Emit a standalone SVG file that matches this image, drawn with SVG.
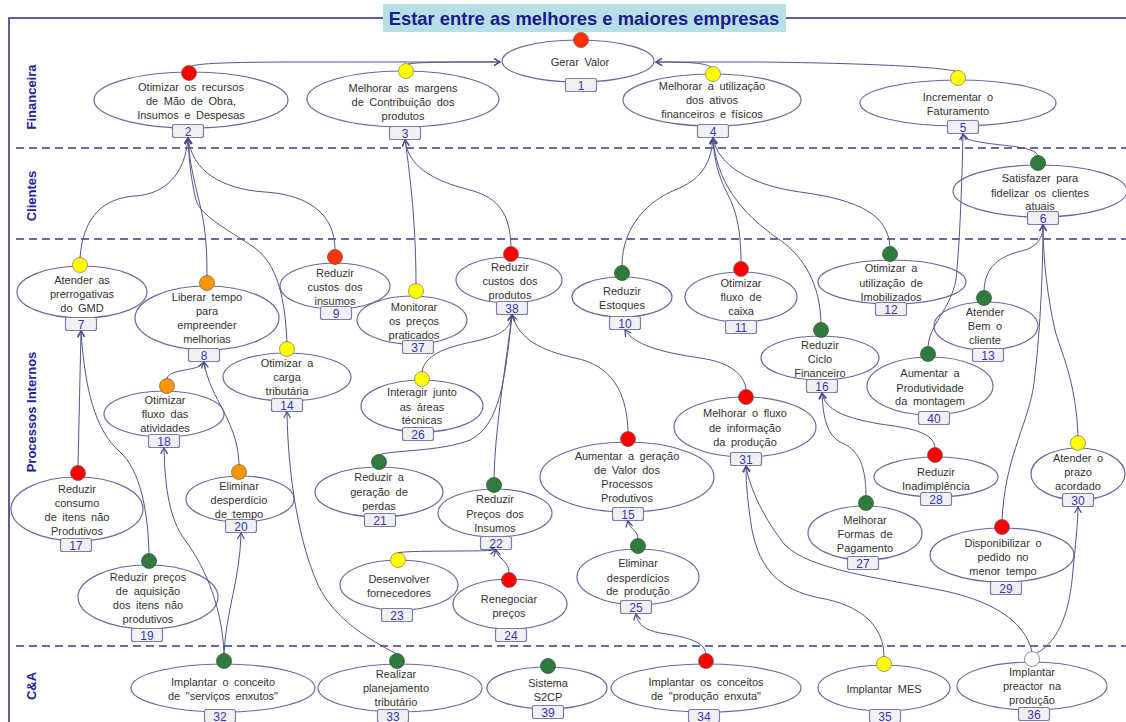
<svg xmlns="http://www.w3.org/2000/svg" width="1126" height="722" viewBox="0 0 1126 722">
<defs>
<marker id="arr" markerWidth="10" markerHeight="10" refX="7" refY="4" orient="auto" markerUnits="userSpaceOnUse">
<path d="M1,0.5 L7,4 L1,7.5" fill="none" stroke="#4a4a88" stroke-width="1.2"/>
</marker>
</defs>
<style>
.el{fill:#fff;stroke:#6a6aa2;stroke-width:1.2}
.bx{fill:#f1f1f4;stroke:#7c7cac;stroke-width:1.2}
.t{font-family:"Liberation Sans",Arial,sans-serif;font-size:11px;fill:#333;text-anchor:middle;word-spacing:2.5px}
.n{font-family:"Liberation Sans",Arial,sans-serif;font-size:12px;fill:#3535b8;text-anchor:middle}
.lane{font-family:"Liberation Sans",Arial,sans-serif;font-size:13px;font-weight:bold;fill:#2222a0;text-anchor:middle}
.sep{stroke:#3a3a88;stroke-width:1.5;stroke-dasharray:8 5;fill:none}
.c{fill:none;stroke:#55558e;stroke-width:1;marker-end:url(#arr)}
.red{fill:#ff0000;stroke:#7a5a5a;stroke-width:0.8}
.rdo{fill:#ff3300;stroke:#7a5a5a;stroke-width:0.8}
.yel{fill:#ffff00;stroke:#8a8a5a;stroke-width:0.8}
.org{fill:#ff9500;stroke:#8a6a4a;stroke-width:0.8}
.grn{fill:#2f7a3c;stroke:#3a5a3a;stroke-width:0.8}
.wht{fill:#fff;stroke:#777;stroke-width:0.8}
</style>
<rect width="1126" height="722" fill="#fff"/>
<g id="frame">
<path d="M9,722 L9,18 L383,18 M786,18 L1126,18" fill="none" stroke="#2a2a7a" stroke-width="1.5"/>
<rect x="383" y="4" width="403" height="28" fill="#b7dfe6"/>
<text x="584" y="25" font-family="Liberation Sans,Arial,sans-serif" font-size="18.4" font-weight="bold" fill="#1a1a8c" text-anchor="middle">Estar entre as melhores e maiores empresas</text>
<path class="sep" d="M16,148 L1126,148"/>
<path class="sep" d="M16,239 L1126,239"/>
<path class="sep" d="M16,646 L1126,646"/>
<text class="lane" transform="translate(36,97) rotate(-90)">Financeira</text>
<text class="lane" transform="translate(36,196) rotate(-90)">Clientes</text>
<text class="lane" transform="translate(36,412) rotate(-90)">Processos Internos</text>
<text class="lane" transform="translate(36,686) rotate(-90)">C&amp;A</text>
</g>
<g id="nodes">
<g id="n1"><ellipse class="el" cx="578" cy="61" rx="76" ry="21"/><circle class="rdo" cx="581" cy="40" r="7.5"/><rect class="bx" x="565.5" y="78.5" width="31" height="13" rx="2"/><text class="n" x="581" y="89.5">1</text><text class="t" x="580" y="66">Gerar Valor</text></g>
<g id="n2"><ellipse class="el" cx="191" cy="100" rx="97" ry="28"/><circle class="red" cx="189" cy="73" r="7.5"/><rect class="bx" x="172.5" y="124.5" width="31" height="13" rx="2"/><text class="n" x="188" y="135.5">2</text><text class="t" x="191" y="91">Otimizar os recursos</text><text class="t" x="191" y="105">de Mão de Obra,</text><text class="t" x="191" y="119">Insumos e Despesas</text></g>
<g id="n3"><ellipse class="el" cx="403" cy="99" rx="96" ry="28"/><circle class="yel" cx="406" cy="71" r="7.5"/><rect class="bx" x="389.5" y="126.5" width="31" height="13" rx="2"/><text class="n" x="405" y="137.5">3</text><text class="t" x="403" y="92">Melhorar as margens</text><text class="t" x="403" y="106">de Contribuição dos</text><text class="t" x="403" y="120">produtos</text></g>
<g id="n4"><ellipse class="el" cx="712" cy="100" rx="89" ry="26"/><circle class="yel" cx="713" cy="74" r="7.5"/><rect class="bx" x="697.5" y="124.5" width="31" height="13" rx="2"/><text class="n" x="713" y="135.5">4</text><text class="t" x="712" y="90">Melhorar a utilização</text><text class="t" x="712" y="104">dos ativos</text><text class="t" x="712" y="118">financeiros e físicos</text></g>
<g id="n5"><ellipse class="el" cx="958" cy="103" rx="98" ry="23"/><circle class="yel" cx="958" cy="78" r="7.5"/><rect class="bx" x="947.5" y="120.5" width="31" height="13" rx="2"/><text class="n" x="963" y="131.5">5</text><text class="t" x="958" y="101">Incrementar o</text><text class="t" x="958" y="115">Faturamento</text></g>
<g id="n6"><ellipse class="el" cx="1040" cy="191" rx="87" ry="26"/><circle class="grn" cx="1038" cy="163" r="7.5"/><rect class="bx" x="1027.5" y="211.5" width="31" height="13" rx="2"/><text class="n" x="1043" y="222.5">6</text><text class="t" x="1040" y="182">Satisfazer para</text><text class="t" x="1040" y="197">fidelizar os clientes</text><text class="t" x="1040" y="210">atuais</text></g>
<g id="n7"><ellipse class="el" cx="82" cy="292" rx="65" ry="26"/><circle class="yel" cx="80" cy="265" r="7.5"/><rect class="bx" x="65.5" y="317.5" width="31" height="13" rx="2"/><text class="n" x="81" y="328.5">7</text><text class="t" x="82" y="284">Atender as</text><text class="t" x="82" y="298">prerrogativas</text><text class="t" x="82" y="312">do GMD</text></g>
<g id="n8"><ellipse class="el" cx="207" cy="318" rx="72" ry="32"/><circle class="org" cx="207" cy="283" r="7.5"/><rect class="bx" x="188.5" y="348.5" width="31" height="13" rx="2"/><text class="n" x="204" y="359.5">8</text><text class="t" x="207" y="301">Liberar tempo</text><text class="t" x="207" y="315">para</text><text class="t" x="207" y="329">empreender</text><text class="t" x="207" y="343">melhorias</text></g>
<g id="n9"><ellipse class="el" cx="335" cy="286" rx="55" ry="23"/><circle class="rdo" cx="335" cy="257" r="7.5"/><rect class="bx" x="320.5" y="306.5" width="31" height="13" rx="2"/><text class="n" x="336" y="317.5">9</text><text class="t" x="335" y="277">Reduzir</text><text class="t" x="335" y="291">custos dos</text><text class="t" x="335" y="305">insumos</text></g>
<g id="n37"><ellipse class="el" cx="412" cy="320" rx="55" ry="24"/><circle class="yel" cx="416" cy="291" r="7.5"/><rect class="bx" x="402.5" y="340.5" width="31" height="13" rx="2"/><text class="n" x="418" y="351.5">37</text><text class="t" x="414" y="311">Monitorar</text><text class="t" x="414" y="325">os preços</text><text class="t" x="414" y="339">praticados</text></g>
<g id="n38"><ellipse class="el" cx="509" cy="280" rx="53" ry="23"/><circle class="red" cx="511" cy="254" r="7.5"/><rect class="bx" x="496.5" y="301.5" width="31" height="13" rx="2"/><text class="n" x="512" y="312.5">38</text><text class="t" x="510" y="271">Reduzir</text><text class="t" x="510" y="285">custos dos</text><text class="t" x="510" y="299">produtos</text></g>
<g id="n10"><ellipse class="el" cx="622" cy="297" rx="50" ry="20"/><circle class="grn" cx="622" cy="273" r="7.5"/><rect class="bx" x="609.5" y="316.5" width="31" height="13" rx="2"/><text class="n" x="625" y="327.5">10</text><text class="t" x="622" y="295">Reduzir</text><text class="t" x="622" y="309">Estoques</text></g>
<g id="n11"><ellipse class="el" cx="741" cy="297" rx="56" ry="25"/><circle class="red" cx="741" cy="269" r="7.5"/><rect class="bx" x="725.5" y="320.5" width="31" height="13" rx="2"/><text class="n" x="741" y="331.5">11</text><text class="t" x="741" y="287">Otimizar</text><text class="t" x="741" y="301">fluxo de</text><text class="t" x="741" y="315">caixa</text></g>
<g id="n12"><ellipse class="el" cx="892" cy="282" rx="74" ry="22"/><circle class="grn" cx="890" cy="254" r="7.5"/><rect class="bx" x="875.5" y="302.5" width="31" height="13" rx="2"/><text class="n" x="891" y="313.5">12</text><text class="t" x="891" y="272">Otimizar a</text><text class="t" x="891" y="287">utilização de</text><text class="t" x="891" y="301">Imobilizados</text></g>
<g id="n13"><ellipse class="el" cx="986" cy="326" rx="52" ry="24"/><circle class="grn" cx="984" cy="298" r="7.5"/><rect class="bx" x="972.5" y="348.5" width="31" height="13" rx="2"/><text class="n" x="988" y="359.5">13</text><text class="t" x="985" y="316">Atender</text><text class="t" x="985" y="330">Bem o</text><text class="t" x="985" y="344">cliente</text></g>
<g id="n16"><ellipse class="el" cx="820" cy="358" rx="59" ry="22"/><circle class="grn" cx="821" cy="330" r="7.5"/><rect class="bx" x="806.5" y="379.5" width="31" height="13" rx="2"/><text class="n" x="822" y="390.5">16</text><text class="t" x="820" y="349">Reduzir</text><text class="t" x="820" y="363">Ciclo</text><text class="t" x="820" y="377">Financeiro</text></g>
<g id="n40"><ellipse class="el" cx="930" cy="386" rx="63" ry="29"/><circle class="grn" cx="928" cy="354" r="7.5"/><rect class="bx" x="918.5" y="411.5" width="31" height="13" rx="2"/><text class="n" x="934" y="422.5">40</text><text class="t" x="930" y="377">Aumentar a</text><text class="t" x="930" y="392">Produtividade</text><text class="t" x="930" y="405">da montagem</text></g>
<g id="n14"><ellipse class="el" cx="287" cy="377" rx="64" ry="24"/><circle class="yel" cx="287" cy="349" r="7.5"/><rect class="bx" x="271.5" y="398.5" width="31" height="13" rx="2"/><text class="n" x="287" y="409.5">14</text><text class="t" x="287" y="367">Otimizar a</text><text class="t" x="287" y="381">carga</text><text class="t" x="287" y="395">tributária</text></g>
<g id="n18"><ellipse class="el" cx="164" cy="414" rx="60" ry="23"/><circle class="org" cx="167" cy="386" r="7.5"/><rect class="bx" x="148.5" y="434.5" width="31" height="13" rx="2"/><text class="n" x="164" y="445.5">18</text><text class="t" x="165" y="404">Otimizar</text><text class="t" x="165" y="418">fluxo das</text><text class="t" x="165" y="432">atividades</text></g>
<g id="n26"><ellipse class="el" cx="422" cy="406" rx="61" ry="26"/><circle class="yel" cx="422" cy="379" r="7.5"/><rect class="bx" x="402.5" y="427.5" width="31" height="13" rx="2"/><text class="n" x="418" y="438.5">26</text><text class="t" x="422" y="396">Interagir junto</text><text class="t" x="422" y="411">as áreas</text><text class="t" x="422" y="424">técnicas</text></g>
<g id="n31"><ellipse class="el" cx="745" cy="427" rx="71" ry="30"/><circle class="red" cx="746" cy="397" r="7.5"/><rect class="bx" x="730.5" y="452.5" width="31" height="13" rx="2"/><text class="n" x="746" y="463.5">31</text><text class="t" x="745" y="417">Melhorar o fluxo</text><text class="t" x="745" y="432">de informação</text><text class="t" x="745" y="446">da produção</text></g>
<g id="n15"><ellipse class="el" cx="627" cy="477" rx="87" ry="35"/><circle class="red" cx="628" cy="439" r="7.5"/><rect class="bx" x="612.5" y="507.5" width="31" height="13" rx="2"/><text class="n" x="628" y="518.5">15</text><text class="t" x="627" y="460">Aumentar a geração</text><text class="t" x="627" y="474">de Valor dos</text><text class="t" x="627" y="488">Processos</text><text class="t" x="627" y="502">Produtivos</text></g>
<g id="n28"><ellipse class="el" cx="936" cy="477" rx="62" ry="20"/><circle class="red" cx="935" cy="455" r="7.5"/><rect class="bx" x="920.5" y="492.5" width="31" height="13" rx="2"/><text class="n" x="936" y="503.5">28</text><text class="t" x="936" y="476">Reduzir</text><text class="t" x="936" y="490">Inadimplência</text></g>
<g id="n30"><ellipse class="el" cx="1078" cy="474" rx="47" ry="26"/><circle class="yel" cx="1078" cy="443" r="7.5"/><rect class="bx" x="1062.5" y="493.5" width="31" height="13" rx="2"/><text class="n" x="1078" y="504.5">30</text><text class="t" x="1078" y="462">Atender o</text><text class="t" x="1078" y="476">prazo</text><text class="t" x="1078" y="490">acordado</text></g>
<g id="n17"><ellipse class="el" cx="77" cy="509" rx="66" ry="32"/><circle class="red" cx="78" cy="473" r="7.5"/><rect class="bx" x="60.5" y="538.5" width="31" height="13" rx="2"/><text class="n" x="76" y="549.5">17</text><text class="t" x="77" y="493">Reduzir</text><text class="t" x="77" y="507">consumo</text><text class="t" x="77" y="521">de itens não</text><text class="t" x="77" y="535">Produtivos</text></g>
<g id="n20"><ellipse class="el" cx="240" cy="499" rx="54" ry="23"/><circle class="org" cx="239" cy="472" r="7.5"/><rect class="bx" x="225.5" y="519.5" width="31" height="13" rx="2"/><text class="n" x="241" y="530.5">20</text><text class="t" x="239" y="490">Eliminar</text><text class="t" x="239" y="504">desperdício</text><text class="t" x="239" y="518">de tempo</text></g>
<g id="n21"><ellipse class="el" cx="379" cy="492" rx="64" ry="25"/><circle class="grn" cx="379" cy="462" r="7.5"/><rect class="bx" x="364.5" y="513.5" width="31" height="13" rx="2"/><text class="n" x="380" y="524.5">21</text><text class="t" x="379" y="481">Reduzir a</text><text class="t" x="379" y="496">geração de</text><text class="t" x="379" y="510">perdas</text></g>
<g id="n22"><ellipse class="el" cx="495" cy="513" rx="57" ry="24"/><circle class="grn" cx="494" cy="485" r="7.5"/><rect class="bx" x="480.5" y="536.5" width="31" height="13" rx="2"/><text class="n" x="496" y="547.5">22</text><text class="t" x="495" y="503">Reduzir</text><text class="t" x="495" y="518">Preços dos</text><text class="t" x="495" y="532">Insumos</text></g>
<g id="n27"><ellipse class="el" cx="865" cy="533" rx="57" ry="27"/><circle class="grn" cx="866" cy="503" r="7.5"/><rect class="bx" x="847.5" y="556.5" width="31" height="13" rx="2"/><text class="n" x="863" y="567.5">27</text><text class="t" x="865" y="524">Melhorar</text><text class="t" x="865" y="538">Formas de</text><text class="t" x="865" y="552">Pagamento</text></g>
<g id="n29"><ellipse class="el" cx="1002" cy="555" rx="72" ry="27"/><circle class="red" cx="1002" cy="527" r="7.5"/><rect class="bx" x="990.5" y="581.5" width="31" height="13" rx="2"/><text class="n" x="1006" y="592.5">29</text><text class="t" x="1003" y="547">Disponibilizar o</text><text class="t" x="1003" y="561">pedido no</text><text class="t" x="1003" y="575">menor tempo</text></g>
<g id="n19"><ellipse class="el" cx="148" cy="597" rx="70" ry="32"/><circle class="grn" cx="149" cy="561" r="7.5"/><rect class="bx" x="131.5" y="628.5" width="31" height="13" rx="2"/><text class="n" x="147" y="639.5">19</text><text class="t" x="148" y="581">Reduzir preços</text><text class="t" x="148" y="595">de aquisição</text><text class="t" x="148" y="609">dos itens não</text><text class="t" x="148" y="623">produtivos</text></g>
<g id="n23"><ellipse class="el" cx="399" cy="585" rx="59" ry="25"/><circle class="yel" cx="398" cy="560" r="7.5"/><rect class="bx" x="381.5" y="608.5" width="31" height="13" rx="2"/><text class="n" x="397" y="619.5">23</text><text class="t" x="399" y="583">Desenvolver</text><text class="t" x="399" y="597">fornecedores</text></g>
<g id="n24"><ellipse class="el" cx="510" cy="604" rx="57" ry="25"/><circle class="red" cx="509" cy="580" r="7.5"/><rect class="bx" x="495.5" y="628.5" width="31" height="13" rx="2"/><text class="n" x="511" y="639.5">24</text><text class="t" x="509" y="603">Renegociar</text><text class="t" x="509" y="617">preços</text></g>
<g id="n25"><ellipse class="el" cx="638" cy="577" rx="61" ry="28"/><circle class="grn" cx="638" cy="546" r="7.5"/><rect class="bx" x="620.5" y="600.5" width="31" height="13" rx="2"/><text class="n" x="636" y="611.5">25</text><text class="t" x="638" y="567">Eliminar</text><text class="t" x="638" y="582">desperdícios</text><text class="t" x="638" y="595">de produção</text></g>
<g id="n32"><ellipse class="el" cx="223" cy="688" rx="92" ry="24"/><circle class="grn" cx="224" cy="661" r="7.5"/><rect class="bx" x="204.5" y="709.5" width="31" height="13" rx="2"/><text class="n" x="220" y="720.5">32</text><text class="t" x="223" y="686">Implantar o conceito</text><text class="t" x="223" y="700">de "serviços enxutos"</text></g>
<g id="n33"><ellipse class="el" cx="400" cy="688" rx="82" ry="24"/><circle class="grn" cx="397" cy="661" r="7.5"/><rect class="bx" x="377.5" y="709.5" width="31" height="13" rx="2"/><text class="n" x="393" y="720.5">33</text><text class="t" x="396" y="678">Realizar</text><text class="t" x="396" y="692">planejamento</text><text class="t" x="396" y="706">tributário</text></g>
<g id="n39"><ellipse class="el" cx="547" cy="688" rx="60" ry="21"/><circle class="grn" cx="548" cy="666" r="7.5"/><rect class="bx" x="532.5" y="705.5" width="31" height="13" rx="2"/><text class="n" x="548" y="716.5">39</text><text class="t" x="548" y="687">Sistema</text><text class="t" x="548" y="701">S2CP</text></g>
<g id="n34"><ellipse class="el" cx="706" cy="688" rx="95" ry="24"/><circle class="red" cx="706" cy="661" r="7.5"/><rect class="bx" x="688.5" y="709.5" width="31" height="13" rx="2"/><text class="n" x="704" y="720.5">34</text><text class="t" x="706" y="686">Implantar os conceitos</text><text class="t" x="706" y="700">de "produção enxuta"</text></g>
<g id="n35"><ellipse class="el" cx="884" cy="688" rx="66" ry="23"/><circle class="yel" cx="884" cy="664" r="7.5"/><rect class="bx" x="869.5" y="709.5" width="31" height="13" rx="2"/><text class="n" x="885" y="720.5">35</text><text class="t" x="884" y="693">Implantar MES</text></g>
<g id="n36"><ellipse class="el" cx="1032" cy="686" rx="75" ry="24"/><rect class="bx" x="1018.5" y="707.5" width="31" height="13" rx="2"/><text class="n" x="1034" y="718.5">36</text><text class="t" x="1032" y="676">Implantar</text><text class="t" x="1032" y="690">preactor na</text><text class="t" x="1032" y="704">produção</text></g>
</g>
<g id="connectors">
<path class="c" d="M192,66 C200,63 240,62 300,62 L500,62"/>
<path class="c" d="M408,64 C420,62 450,62 500,62"/>
<path class="c" d="M711,67 C705,63 690,62 656,62"/>
<path class="c" d="M955,71 C930,66 850,63 760,62 L656,62"/>
<path class="c" d="M1038,156 C1036,146 1000,146 980,142 C968,140 964,138 963,134"/>
<path class="c" d="M928,347 C929,325 950,310 956,280 C960,240 962,180 963,134"/>
<path class="c" d="M984,291 C985,262 1005,255 1025,250 C1040,245 1043,235 1043,225"/>
<path class="c" d="M1078,436 C1076,380 1060,350 1055,330 C1048,300 1043,260 1043,225"/>
<path class="c" d="M1002,520 C1005,460 1025,430 1033,390 C1040,340 1043,270 1043,225"/>
<path class="c" d="M80,258 C83,215 105,198 135,196 C165,194 185,175 188,138"/>
<path class="c" d="M207,276 C207,245 205,225 200,205 C194,180 189,160 188,138"/>
<path class="c" d="M287,342 C285,300 278,265 255,248 C225,228 200,215 196,200 C191,180 189,160 188,138"/>
<path class="c" d="M335,250 C335,215 310,195 265,192 C220,189 192,170 188,138"/>
<path class="c" d="M416,284 C416,230 411,180 405,140"/>
<path class="c" d="M511,247 C510,215 500,198 470,190 C430,180 408,165 405,140"/>
<path class="c" d="M622,266 C622,225 650,200 675,190 C700,180 711,165 713,138"/>
<path class="c" d="M741,262 C741,230 736,210 728,195 C718,175 714,160 713,138"/>
<path class="c" d="M890,247 C888,215 860,200 800,192 C750,185 718,165 713,138"/>
<path class="c" d="M821,323 C820,285 805,258 780,240 C740,213 716,180 713,138"/>
<path class="c" d="M78,466 L81,331"/>
<path class="c" d="M149,554 C148,510 140,470 120,452 C95,430 85,390 81,331"/>
<path class="c" d="M167,379 C168,368 200,372 204,362"/>
<path class="c" d="M239,465 C238,420 210,400 204,362"/>
<path class="c" d="M224,654 C222,600 200,560 185,540 C170,520 165,490 164,448"/>
<path class="c" d="M224,654 C226,610 240,580 241,533"/>
<path class="c" d="M397,654 C370,640 335,620 318,585 C300,545 288,480 287,412"/>
<path class="c" d="M422,372 C425,350 460,345 480,340 C500,335 510,330 512,315"/>
<path class="c" d="M379,455 C390,450 440,452 470,440 C500,425 505,380 512,315"/>
<path class="c" d="M494,478 C495,430 505,370 512,315"/>
<path class="c" d="M628,432 C627,390 610,365 575,358 C540,350 520,340 512,315"/>
<path class="c" d="M746,390 C745,375 730,362 700,358 C660,352 635,345 625,330"/>
<path class="c" d="M935,448 C934,432 910,428 880,424 C845,418 825,410 822,393"/>
<path class="c" d="M866,496 C866,460 855,448 840,442 C828,435 823,420 822,393"/>
<path class="c" d="M638,539 C638,530 630,530 628,521"/>
<path class="c" d="M398,553 C405,550 480,552 496,550"/>
<path class="c" d="M509,573 C509,560 498,560 496,550"/>
<path class="c" d="M706,654 C705,640 680,636 660,633 C645,630 638,625 636,614"/>
<path class="c" d="M884,657 C884,625 860,605 820,598 C780,590 760,570 752,530 C748,505 746,485 746,466"/>
<path class="c" d="M1032,652 C1025,620 990,600 940,590 C880,578 810,570 785,545 C765,520 750,490 746,466"/>
<path class="c" d="M1037,653 C1060,640 1070,610 1073,570 C1076,540 1078,520 1078,507"/>
</g>
<g id="n36-status"><circle class="wht" cx="1032" cy="659" r="7.5"/></g>
</svg>
